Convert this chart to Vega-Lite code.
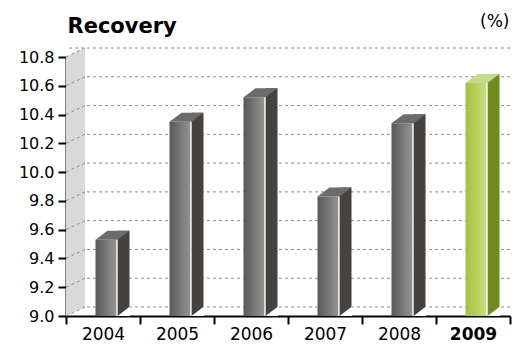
{
  "$schema": "https://vega.github.io/schema/vega-lite/v6.json",
  "width": 444,
  "height": 259,
  "autosize": "none",
  "padding": {"left": 66, "top": 57, "right": 15, "bottom": 30},
  "background": "white",
  "config": {
    "view": {"stroke": null},
    "axis": {"labelFont": "DejaVu Sans", "titleFont": "DejaVu Sans", "labelColor": "black", "titleColor": "black"},
    "axisY": {
      "format": ".1f", "grid": false,
      "labelOverlap": false, "labelBound": false, "labelFlush": false,
      "domainColor": "black", "domainWidth": 2,
      "tickColor": "black", "tickWidth": 2, "tickSize": 8,
      "labelFontSize": 16, "labelPadding": 4
    }
  },
  "datasets": {
    "bars": [
      {"year": "2004", "value": 9.53},
      {"year": "2005", "value": 10.35},
      {"year": "2006", "value": 10.52},
      {"year": "2007", "value": 9.83},
      {"year": "2008", "value": 10.34},
      {"year": "2009", "value": 10.62}
    ],
    "ticks": [
      {"tick": 9.0}, {"tick": 9.2}, {"tick": 9.4}, {"tick": 9.6}, {"tick": 9.8},
      {"tick": 10.0}, {"tick": 10.2}, {"tick": 10.4}, {"tick": 10.6}, {"tick": 10.8}
    ]
  },
  "layer": [
    {
      "data": {"name": "ticks"},
      "mark": {"type": "rule", "yOffset": -9, "strokeDash": [3, 3], "color": "#8c8c8c", "strokeWidth": 1},
      "encoding": {
        "y": {
          "field": "tick", "type": "quantitative",
          "scale": {"domain": [9, 10.8], "nice": false, "zero": false},
          "axis": {
            "values": [9.0, 9.2, 9.4, 9.6, 9.8, 10.0, 10.2, 10.4, 10.6, 10.8],
            "title": "(%)", "titleAngle": 0, "titleX": 443, "titleY": -31,
            "titleAlign": "right", "titleBaseline": "alphabetic",
            "titleFontSize": 17, "titleFontWeight": "normal"
          }
        }
      }
    },
    {
      "data": {"values": [{"base": 9.0}]},
      "mark": {"type": "point", "shape": "M0,0 L19,-9 L19,-268 L0,-259 Z", "size": 4, "filled": true, "fill": "#d9d9d9", "opacity": 1, "strokeWidth": 0},
      "encoding": {
        "x": {"value": 0},
        "y": {"field": "base", "type": "quantitative", "axis": {"values": [9.0, 9.2, 9.4, 9.6, 9.8, 10.0, 10.2, 10.4, 10.6, 10.8]}}
      }
    },
    {
      "data": {"name": "ticks"},
      "mark": {"type": "rule", "y2Offset": -9, "strokeDash": [3, 3], "color": "#8c8c8c", "strokeWidth": 1},
      "encoding": {
        "x": {"value": 0},
        "x2": {"value": 19},
        "y": {"field": "tick", "type": "quantitative", "axis": {"values": [9.0, 9.2, 9.4, 9.6, 9.8, 10.0, 10.2, 10.4, 10.6, 10.8]}},
        "y2": {"field": "tick"}
      }
    },
    {
      "data": {"name": "bars"},
      "mark": {"type": "bar", "width": 12, "xOffset": 20.5, "yOffset": -9, "y2Offset": 0},
      "encoding": {
        "x": {
          "field": "year", "type": "nominal",
          "scale": {"type": "band", "paddingInner": 0, "paddingOuter": 0},
          "axis": {
            "labelAngle": 0, "tickBand": "extent",
            "domainColor": "black", "domainWidth": 2,
            "tickColor": "black", "tickWidth": 2, "tickSize": 8,
            "labelFontSize": 17, "labelPadding": 2,
            "labelFontWeight": {"condition": {"test": "datum.value === '2009'", "value": "bold"}, "value": "normal"},
            "title": "Recovery", "titleX": 1, "titleY": -284, "titleAlign": "left",
            "titleBaseline": "alphabetic", "titleFontSize": 21, "titleFontWeight": "bold"
          }
        },
        "y": {"field": "value", "type": "quantitative", "axis": {"values": [9.0, 9.2, 9.4, 9.6, 9.8, 10.0, 10.2, 10.4, 10.6, 10.8]}},
        "y2": {"datum": 9.0},
        "fill": {"condition": {"test": "datum.year === '2009'", "value": "#6f8b20"}, "value": "#46423f"}
      }
    },
    {
      "data": {"name": "bars"},
      "mark": {"type": "point", "shape": "M14.5,0 L27,0 L27,-9.5 Z", "size": 4, "filled": true, "fill": "white", "opacity": 1, "strokeWidth": 0},
      "encoding": {
        "x": {"field": "year", "type": "nominal"},
        "y": {"datum": 9.0, "type": "quantitative", "axis": {"values": [9.0, 9.2, 9.4, 9.6, 9.8, 10.0, 10.2, 10.4, 10.6, 10.8]}}
      }
    },
    {
      "data": {"name": "bars"},
      "mark": {"type": "bar", "width": 22, "xOffset": 3.5},
      "encoding": {
        "x": {"field": "year", "type": "nominal"},
        "y": {"field": "value", "type": "quantitative", "axis": {"values": [9.0, 9.2, 9.4, 9.6, 9.8, 10.0, 10.2, 10.4, 10.6, 10.8]}},
        "y2": {"datum": 9.0},
        "fill": {
          "condition": {
            "test": "datum.year === '2009'",
            "value": {"gradient": "linear", "x1": 0, "y1": 0, "x2": 1, "y2": 0,
              "stops": [{"offset": 0, "color": "#a3c43a"}, {"offset": 0.94, "color": "#c6dc7e"}, {"offset": 0.95, "color": "#f2f7e0"}, {"offset": 1, "color": "#f2f7e0"}]}
          },
          "value": {"gradient": "linear", "x1": 0, "y1": 0, "x2": 1, "y2": 0,
            "stops": [{"offset": 0, "color": "#595959"}, {"offset": 0.94, "color": "#939393"}, {"offset": 0.95, "color": "#e2e2e2"}, {"offset": 1, "color": "#e2e2e2"}]}
        }
      }
    },
    {
      "data": {"name": "bars"},
      "mark": {"type": "point", "shape": "M-7.5,0 L14.5,0 L26.5,-9 L4.5,-9 Z", "size": 4, "filled": true, "opacity": 1, "strokeWidth": 0},
      "encoding": {
        "x": {"field": "year", "type": "nominal"},
        "y": {"field": "value", "type": "quantitative", "axis": {"values": [9.0, 9.2, 9.4, 9.6, 9.8, 10.0, 10.2, 10.4, 10.6, 10.8]}},
        "fill": {"condition": {"test": "datum.year === '2009'", "value": "#c3db8b"}, "value": "#6e6c6b"}
      }
    }
  ]
}
